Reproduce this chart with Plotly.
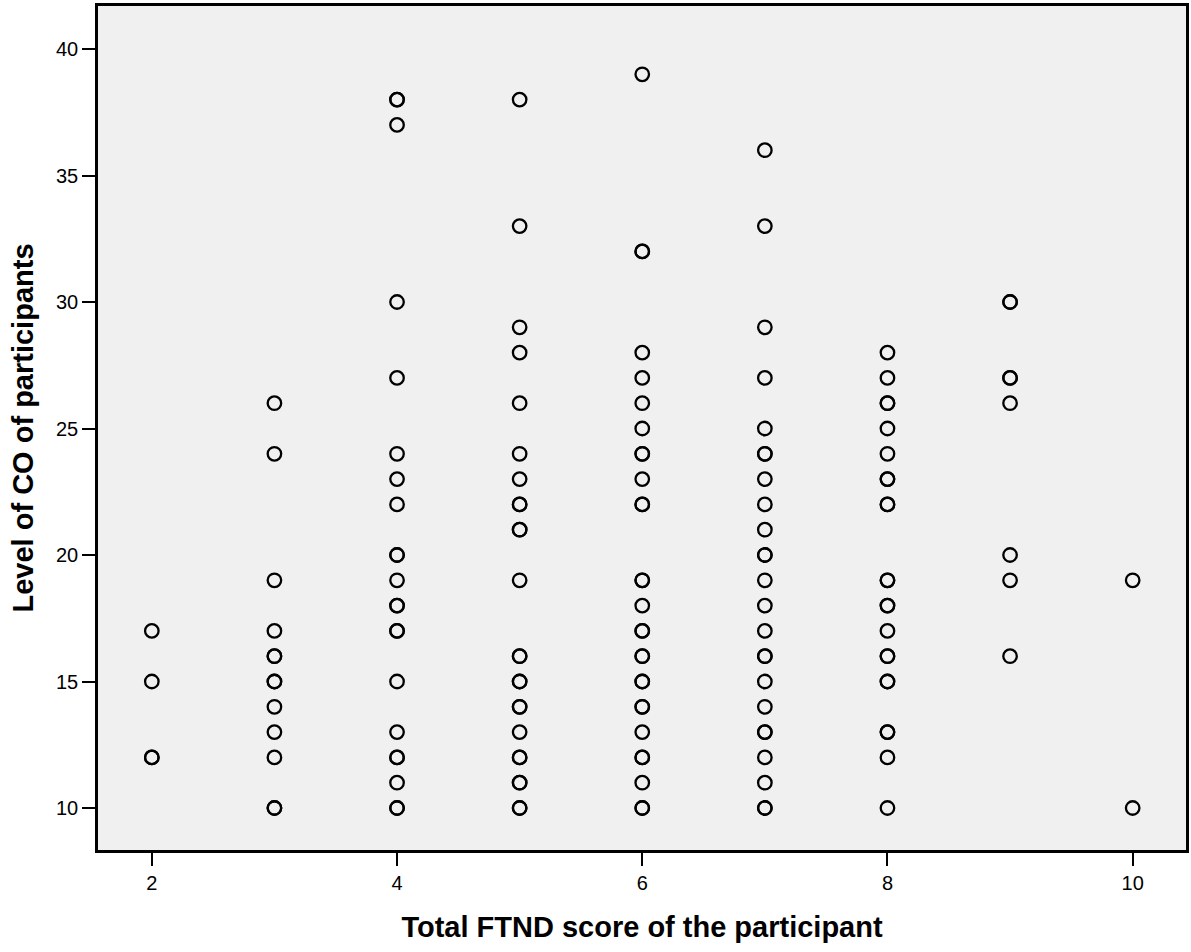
import plotly.graph_objects as go

# FTND score -> CO levels (duplicates for overlapping/bold markers)
ftnd_2 = [17, 15, 12, 12]
ftnd_3 = [26, 24, 19, 17, 16, 16, 15, 15, 14, 13, 12, 10, 10]
ftnd_4 = [38, 38, 37, 30, 27, 24, 23, 22, 20, 20, 19, 18, 18, 17, 17, 15, 13, 12, 12, 11, 10, 10]
ftnd_5 = [38, 33, 29, 28, 26, 24, 23, 22, 22, 21, 21, 19, 16, 16, 15, 15, 14, 14, 13, 12, 12, 11, 11, 10, 10]
ftnd_6 = [39, 32, 32, 28, 27, 26, 25, 24, 24, 23, 22, 22, 19, 19, 18, 17, 17, 16, 16, 15, 15, 14, 14, 13, 12, 12, 11, 10, 10]
ftnd_7 = [36, 33, 29, 27, 25, 24, 24, 23, 22, 21, 20, 20, 19, 18, 17, 16, 16, 15, 14, 13, 13, 12, 11, 10, 10]
ftnd_8 = [28, 27, 26, 26, 25, 24, 23, 23, 22, 22, 19, 19, 18, 18, 17, 16, 16, 15, 15, 13, 13, 12, 10]
ftnd_9 = [30, 30, 27, 27, 26, 20, 19, 16]
ftnd_10 = [19, 10]

groups = {2: ftnd_2, 3: ftnd_3, 4: ftnd_4, 5: ftnd_5, 6: ftnd_6,
          7: ftnd_7, 8: ftnd_8, 9: ftnd_9, 10: ftnd_10}

xs, ys = [], []
for k, vals in groups.items():
    xs += [k] * len(vals)
    ys += vals

x_ticks = [2, 4, 6, 8, 10]
y_ticks = [10, 15, 20, 25, 30, 35, 40]

fig = go.Figure(go.Scatter(
    x=xs, y=ys, mode="markers",
    marker=dict(symbol="circle-open", size=13.5, color="black",
                line=dict(width=2.3, color="black")),
    showlegend=False, hoverinfo="x+y"))

font_family = "Liberation Sans, Arial, sans-serif"
fig.update_layout(
    width=1191, height=952,
    margin=dict(l=98, r=2, t=6, b=102),
    paper_bgcolor="white", plot_bgcolor="#f0f0f0",
    font=dict(family=font_family, size=20, color="black"),
    xaxis=dict(range=[1.561, 10.435], tickvals=x_ticks, ticks="outside",
               ticklen=13, tickwidth=2, tickcolor="black",
               showline=True, linewidth=2.5, linecolor="black", mirror=True,
               showgrid=False, zeroline=False,
               tickfont=dict(size=20),
               title=dict(text="<b>Total FTND score of the participant</b>",
                          font=dict(size=29), standoff=24)),
    yaxis=dict(range=[8.34, 41.70], tickvals=y_ticks, ticks="outside",
               ticklen=13, tickwidth=2, tickcolor="black",
               showline=True, linewidth=2.5, linecolor="black", mirror=True,
               showgrid=False, zeroline=False,
               tickfont=dict(size=20),
               title=dict(text="<b>Level of CO of participants</b>",
                          font=dict(size=29), standoff=14)),
)

fig.write_html("out.html", config={"displayModeBar": False},
               post_script="document.body.style.margin='0px';")
